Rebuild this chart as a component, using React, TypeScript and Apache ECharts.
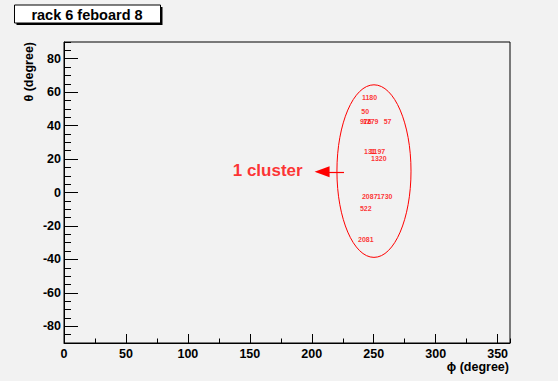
import React, { useEffect, useRef } from "react";
import * as echarts from "echarts";

// ---- data ----
const xMajorTicks = [0, 50, 100, 150, 200, 250, 300, 350];
const yMajorTicks = [-80, -60, -40, -20, 0, 20, 40, 60, 80];

const labelTexts = ["1180", "50", "976", "1279", "57", "131", "1197", "1320", "2087", "1730", "522", "2081"];
const labelPhi = [240.5, 240.0, 238.9, 241.3, 258.0, 242.2, 247.0, 247.8, 240.5, 252.6, 238.9, 237.3];
const labelTheta = [57.1, 48.2, 42.6, 42.6, 42.6, 24.7, 24.7, 20.5, -2.6, -2.6, -9.7, -28.1];

// ellipse: center phi, center theta, radius phi, radius theta
const ellipseCenter = [250.2, 12.8];
const ellipseRadii = [29.9, 51.6];

// arrow from tail to (symbol centre of) tip
const arrowTail = [226.0, 12.4];
const arrowTip = [208.3, 12.4];

const clusterText = "1 cluster";
const clusterPos = [136.2, 13.2];

const titleText = "rack 6 feboard 8";
const xTitle = "ϕ (degree)";
const yTitle = "θ (degree)";

const FONT = "'Liberation Sans', Arial, Helvetica, sans-serif";
const RED = "#ff0000";

export default function App() {
  const ref = useRef<HTMLDivElement>(null);
  useEffect(() => {
    document.body.style.margin = "0";
    if (!ref.current) return;
    const chart = echarts.init(ref.current, undefined, { renderer: "svg" });
    const labelData = labelTexts.map((t, i) => ({ value: [labelPhi[i], labelTheta[i]], name: t }));
    const option: any = {
      animation: false,
      backgroundColor: "#f2f2f2",
      grid: {
        left: 64,
        top: 42,
        width: 446,
        height: 301,
        show: true,
        borderColor: "#000",
        borderWidth: 1,
        backgroundColor: "transparent",
      },
      xAxis: [
        {
          type: "value",
          min: 0,
          max: 360,
          position: "bottom",
          axisLine: { show: true, onZero: false, lineStyle: { color: "#000", width: 1 } },
          axisTick: { show: true, inside: true, length: 9, customValues: xMajorTicks, lineStyle: { color: "#000" } },
          axisLabel: {
            customValues: xMajorTicks,
            fontWeight: "bold",
            fontSize: 12.5,
            color: "#000",
            fontFamily: FONT,
            margin: 4,
          },
          splitLine: { show: false },
        },
        {
          type: "value",
          min: 0,
          max: 360,
          interval: 25,
          position: "bottom",
          gridIndex: 0,
          axisLine: { show: false, onZero: false },
          axisTick: { show: true, inside: true, length: 4.5, lineStyle: { color: "#000" } },
          axisLabel: { show: false },
          splitLine: { show: false },
        },
      ],
      yAxis: [
        {
          type: "value",
          min: -90,
          max: 90,
          position: "left",
          axisLine: { show: true, onZero: false, lineStyle: { color: "#000", width: 1 } },
          axisTick: { show: true, inside: true, length: 14, customValues: yMajorTicks, lineStyle: { color: "#000" } },
          axisLabel: {
            customValues: yMajorTicks,
            fontWeight: "bold",
            fontSize: 12.5,
            color: "#000",
            fontFamily: FONT,
            margin: 3,
          },
          splitLine: { show: false },
        },
        {
          type: "value",
          min: -90,
          max: 90,
          interval: 5,
          position: "left",
          axisLine: { show: false, onZero: false },
          axisTick: { show: true, inside: true, length: 7, lineStyle: { color: "#000" } },
          axisLabel: { show: false },
          splitLine: { show: false },
        },
      ],
      series: [
        {
          type: "scatter",
          xAxisIndex: 0,
          yAxisIndex: 0,
          symbolSize: 0,
          data: labelData,
          label: {
            show: true,
            position: "inside",
            align: "left",
            verticalAlign: "middle",
            formatter: (p: any) => p.name,
            color: RED,
            fontWeight: "bold",
            fontSize: 7,
            fontFamily: FONT,
          },
          labelLayout: { hideOverlap: false },
          silent: true,
        },
        {
          type: "scatter",
          xAxisIndex: 0,
          yAxisIndex: 0,
          symbolSize: 0,
          data: [{ value: clusterPos, name: clusterText }],
          label: {
            show: true,
            position: "inside",
            align: "left",
            verticalAlign: "middle",
            formatter: (p: any) => p.name,
            color: RED,
            fontWeight: "bold",
            fontSize: 17,
            fontFamily: FONT,
          },
          markLine: {
            silent: true,
            animation: false,
            symbol: ["none", "triangle"],
            symbolSize: [11, 15],
            label: { show: false },
            lineStyle: { color: RED, type: "solid", width: 1.2 },
            data: [[{ coord: arrowTail }, { coord: arrowTip }]],
          },
          silent: true,
        },
        {
          type: "custom",
          xAxisIndex: 0,
          yAxisIndex: 0,
          clip: false,
          data: [[ellipseCenter[0], ellipseCenter[1], ellipseRadii[0], ellipseRadii[1]]],
          renderItem: (params: any, api: any) => {
            const c = api.coord([api.value(0), api.value(1)]);
            const s = api.size([api.value(2), api.value(3)]);
            return {
              type: "ellipse",
              shape: { cx: c[0], cy: c[1], rx: s[0], ry: s[1] },
              style: { fill: "none", stroke: RED, lineWidth: 1 },
            };
          },
          silent: true,
        },
      ],
      graphic: [
        { type: "rect", shape: { x: 16.5, y: 7, width: 146, height: 18 }, style: { fill: "#000" } },
        {
          type: "rect",
          shape: { x: 14.5, y: 5, width: 146, height: 18 },
          style: { fill: "#fff", stroke: "#000", lineWidth: 1 },
        },
        {
          type: "text",
          x: 87,
          y: 14.5,
          style: {
            text: titleText,
            align: "center",
            verticalAlign: "middle",
            fill: "#000",
            font: `bold 14.5px ${FONT}`,
          },
        },
        {
          type: "text",
          x: 509,
          y: 367,
          style: {
            text: xTitle,
            align: "right",
            verticalAlign: "middle",
            fill: "#000",
            font: `bold 12.5px ${FONT}`,
          },
        },
        {
          type: "text",
          x: 29,
          y: 42,
          rotation: Math.PI / 2,
          style: {
            text: yTitle,
            align: "right",
            verticalAlign: "middle",
            fill: "#000",
            font: `bold 12.5px ${FONT}`,
          },
        },
      ],
    };
    chart.setOption(option);
    return () => chart.dispose();
  }, []);
  return <div ref={ref} style={{ width: 558, height: 381 }} />;
}
